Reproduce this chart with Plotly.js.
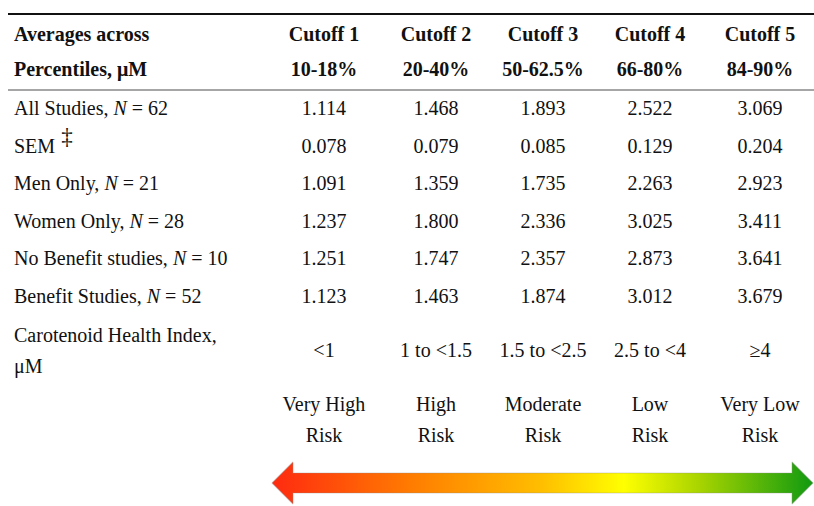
<!DOCTYPE html>
<html>
<head>
<meta charset="utf-8">
<script src="https://cdn.plot.ly/plotly-3.0.1.min.js"></script>
<style>html,body{margin:0;padding:0;background:#fff;}#chart{width:814px;height:506px;}</style>
</head>
<body>
<div id="chart"></div>
<script>
// ---- data ----
const headerLabel = ['Averages across', 'Percentiles, μM'];
const cutoffNames = ['Cutoff 1', 'Cutoff 2', 'Cutoff 3', 'Cutoff 4', 'Cutoff 5'];
const percentileRanges = ['10-18%', '20-40%', '50-62.5%', '66-80%', '84-90%'];
const rowLabels = ['All Studies, <i>N</i> = 62', 'SEM', 'Men Only, <i>N</i> = 21',
  'Women Only, <i>N</i> = 28', 'No Benefit studies, <i>N</i> = 10', 'Benefit Studies, <i>N</i> = 52'];
const semMark = ['‡'];
const allStudies = ['1.114', '1.468', '1.893', '2.522', '3.069'];
const sem = ['0.078', '0.079', '0.085', '0.129', '0.204'];
const menOnly = ['1.091', '1.359', '1.735', '2.263', '2.923'];
const womenOnly = ['1.237', '1.800', '2.336', '3.025', '3.411'];
const noBenefit = ['1.251', '1.747', '2.357', '2.873', '3.641'];
const benefit = ['1.123', '1.463', '1.874', '3.012', '3.679'];
const indexLabel = ['Carotenoid Health Index,', 'μM'];
const healthIndex = ['<1', '1 to <1.5', '1.5 to <2.5', '2.5 to <4', '≥4'];
const riskLine1 = ['Very High', 'High', 'Moderate', 'Low', 'Very Low'];
const riskLine2 = ['Risk', 'Risk', 'Risk', 'Risk', 'Risk'];

// ---- layout constants ----
const W = 814, H = 506;
const colX = [324, 436, 543, 650, 760];
const labelX = 14;
const headY = [36, 71];
const rowY0 = 110, rowStep = 37.6;
const indexY = [337, 368], indexValY = 352;
const riskY = [406, 437];
const FONT = 'Liberation Serif, Times New Roman, serif';
const FS = 20;

const rows = [allStudies, sem, menOnly, womenOnly, noBenefit, benefit];
const traces = [];

function textTrace(xs, ys, texts, pos, bold, size) {
  traces.push({
    type: 'scatter', mode: 'text', x: xs, y: ys, text: texts,
    textposition: pos, cliponaxis: false, hoverinfo: 'skip', showlegend: false,
    textfont: {family: FONT, size: size || FS, color: '#111', weight: bold ? 'bold' : 'normal'}
  });
}

// gradient arrow
const ax0 = 272, ax1 = 813, ay = 483, headW = 21, headH = 21, shaftH = 10;
const arrowX = [ax0, ax0 + headW, ax0 + headW, ax1 - headW, ax1 - headW, ax1, ax1 - headW, ax1 - headW, ax0 + headW, ax0 + headW, ax0];
const arrowY = [ay, ay - headH, ay - shaftH, ay - shaftH, ay - headH, ay, ay + headH, ay + shaftH, ay + shaftH, ay + headH, ay];
traces.push({
  type: 'scatter', mode: 'lines', x: arrowX, y: arrowY, fill: 'toself',
  line: {color: 'rgba(140,140,140,0.35)', width: 1.2},
  fillgradient: {type: 'horizontal', start: ax0, stop: ax1,
    colorscale: [[0, '#ff2a10'], [0.27, '#ff8000'], [0.5, '#ffbf00'], [0.65, '#ffff00'], [0.79, '#a8d400'], [1, '#109a10']]},
  hoverinfo: 'skip', showlegend: false
});

// header
textTrace([labelX, labelX], headY, headerLabel, 'middle right', true);
textTrace(colX, colX.map(() => headY[0]), cutoffNames, 'middle center', true);
textTrace(colX, colX.map(() => headY[1]), percentileRanges, 'middle center', true);
// body rows
rows.forEach((vals, i) => {
  const y = rowY0 + i * rowStep;
  textTrace([labelX], [y], [rowLabels[i]], 'middle right', false);
  textTrace(colX, colX.map(() => y), vals, 'middle center', false);
});
// SEM double-dagger mark
textTrace([67], [rowY0 + rowStep - 9], semMark, 'middle center', false, 23);
textTrace([labelX, labelX], indexY, indexLabel, 'middle right', false);
textTrace(colX, colX.map(() => indexValY), healthIndex, 'middle center', false);
textTrace(colX, colX.map(() => riskY[0]), riskLine1, 'middle center', false);
textTrace(colX, colX.map(() => riskY[1]), riskLine2, 'middle center', false);

const layout = {
  width: W, height: H, margin: {l: 0, r: 0, t: 0, b: 0},
  paper_bgcolor: '#fff', plot_bgcolor: '#fff', showlegend: false,
  xaxis: {range: [0, W], visible: false, fixedrange: true},
  yaxis: {range: [H, 0], visible: false, fixedrange: true},
  shapes: [
    {type: 'line', xref: 'x', yref: 'y', x0: 8, x1: W, y0: 14, y1: 14, line: {color: '#111', width: 2}},
    {type: 'line', xref: 'x', yref: 'y', x0: 8, x1: W, y0: 90, y1: 90, line: {color: '#888', width: 1.5}}
  ]
};

Plotly.newPlot('chart', traces, layout, {staticPlot: true, displayModeBar: false});
</script>
</body>
</html>
